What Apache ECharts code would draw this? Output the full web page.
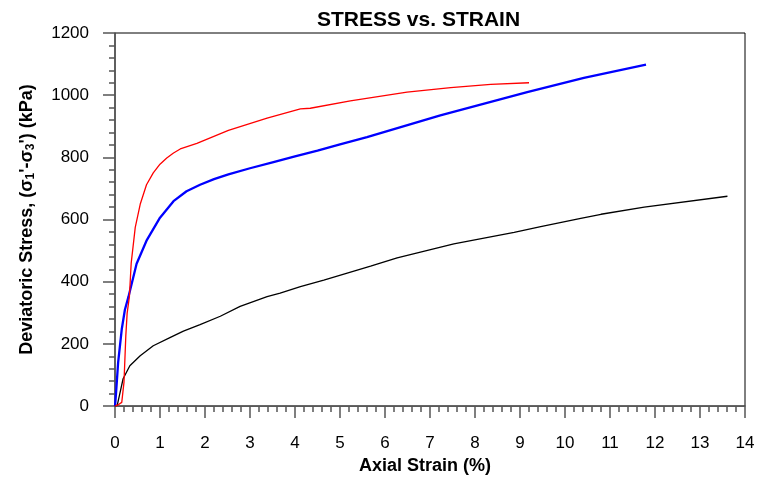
<!DOCTYPE html>
<html>
<head>
<meta charset="utf-8">
<script src="https://cdn.jsdelivr.net/npm/echarts@6/dist/echarts.min.js"></script>
<style>
  html, body { margin: 0; padding: 0; background: #fff; }
  #chart { width: 758px; height: 480px; }
</style>
</head>
<body>
<div id="chart"></div>
<script>
// Triaxial test results: deviatoric stress against axial strain, three specimens.
const xTicks = [0, 14, 1];          // min, max, interval (axial strain, %)
const yTicks = [0, 1200, 200];      // min, max, interval (kPa)

const redStrain  = [0, 0.08, 0.15, 0.18, 0.20, 0.24, 0.27, 0.32, 0.36, 0.45, 0.56, 0.70, 0.85, 1.00, 1.15, 1.30, 1.45, 1.82, 2.52, 3.38, 4.12, 4.34, 5.23, 6.49, 7.46, 8.35, 9.2];
const redStress  = [0, 5, 12, 14, 77, 225, 299, 352, 460, 575, 649, 712, 750, 778, 798, 814, 827, 845, 887, 926, 956, 958, 982, 1010, 1024, 1035, 1040];

const blueStrain = [0, 0.02, 0.07, 0.15, 0.22, 0.30, 0.48, 0.70, 1.00, 1.30, 1.59, 1.89, 2.20, 2.52, 3.00, 3.50, 4.00, 4.50, 5.00, 5.60, 7.23, 9.16, 10.42, 11.8];
const blueStress = [0, 35, 141, 247, 310, 352, 458, 532, 606, 659, 691, 712, 730, 745, 765, 784, 803, 822, 842, 865, 935, 1010, 1056, 1098];

const blackStrain = [0, 0.05, 0.10, 0.18, 0.33, 0.56, 0.85, 1.22, 1.52, 1.89, 2.34, 2.78, 3.38, 3.67, 4.12, 4.64, 5.68, 6.27, 7.53, 8.87, 9.46, 10.35, 10.8, 11.76, 13.61];
const blackStress = [0, 3, 35, 88, 130, 162, 194, 220, 241, 262, 289, 321, 352, 363, 384, 405, 450, 477, 522, 559, 577, 604, 617, 640, 675];

const zip = (xs, ys) => xs.map((x, i) => [x, ys[i]]);

const FONT = 'Liberation Sans';
const axisGray = '#555';

const chart = echarts.init(document.getElementById('chart'), null, { renderer: 'canvas' });

chart.setOption({
  animation: false,
  backgroundColor: '#fff',
  title: {
    text: 'STRESS vs. STRAIN',
    left: 312,
    top: 5,
    textStyle: { fontFamily: FONT, fontSize: 21, fontWeight: 'bold', color: '#000' }
  },
  grid: {
    left: 115, right: 13, top: 33, bottom: 69,
    show: true, borderColor: '#000', borderWidth: 1, backgroundColor: 'transparent'
  },
  xAxis: {
    type: 'value',
    min: xTicks[0], max: xTicks[1], interval: xTicks[2],
    name: 'Axial Strain (%)',
    nameLocation: 'middle',
    nameGap: 48,
    nameTextStyle: { fontFamily: FONT, fontSize: 18, fontWeight: 'bold', color: '#000', padding: [0, 10, 0, 0] },
    axisLine: { show: true, onZero: false, lineStyle: { color: axisGray, width: 1.5 } },
    axisTick: { show: true, inside: false, length: 12, lineStyle: { color: axisGray, width: 1.5 } },
    minorTick: { show: true, splitNumber: 5, length: 6, lineStyle: { color: axisGray, width: 1.5 } },
    axisLabel: { fontFamily: FONT, fontSize: 17, color: '#000', margin: 29 },
    splitLine: { show: false }
  },
  yAxis: {
    type: 'value',
    min: yTicks[0], max: yTicks[1], interval: yTicks[2],
    name: "{a|Deviatoric Stress, (σ}{s|1}{a|'-σ}{s|3}{a|') (kPa)}",
    nameLocation: 'middle',
    nameGap: 78,
    nameTextStyle: {
      fontFamily: FONT, fontSize: 18, fontWeight: 'bold', color: '#000',
      rich: {
        a: { fontFamily: FONT, fontSize: 18, fontWeight: 'bold', color: '#000', lineHeight: 20 },
        s: { fontFamily: FONT, fontSize: 12, fontWeight: 'bold', color: '#000', lineHeight: 10, verticalAlign: 'bottom' }
      }
    },
    axisLine: { show: true, onZero: false, lineStyle: { color: axisGray, width: 1.5 } },
    axisTick: { show: true, inside: false, length: 12, lineStyle: { color: axisGray, width: 1.5 } },
    minorTick: { show: true, splitNumber: 5, length: 6, lineStyle: { color: axisGray, width: 1.5 } },
    axisLabel: { fontFamily: FONT, fontSize: 17, color: '#000', margin: 26, formatter: v => String(v) },
    splitLine: { show: false }
  },
  series: [
    {
      name: 'Specimen 1',
      type: 'line',
      data: zip(redStrain, redStress),
      showSymbol: false,
      lineStyle: { color: '#ff0000', width: 1.3 },
      z: 3
    },
    {
      name: 'Specimen 2',
      type: 'line',
      data: zip(blueStrain, blueStress),
      showSymbol: false,
      lineStyle: { color: '#0000ff', width: 2.3 },
      z: 2
    },
    {
      name: 'Specimen 3',
      type: 'line',
      data: zip(blackStrain, blackStress),
      showSymbol: false,
      lineStyle: { color: '#000000', width: 1.3 },
      z: 2
    }
  ]
});
</script>
</body>
</html>
